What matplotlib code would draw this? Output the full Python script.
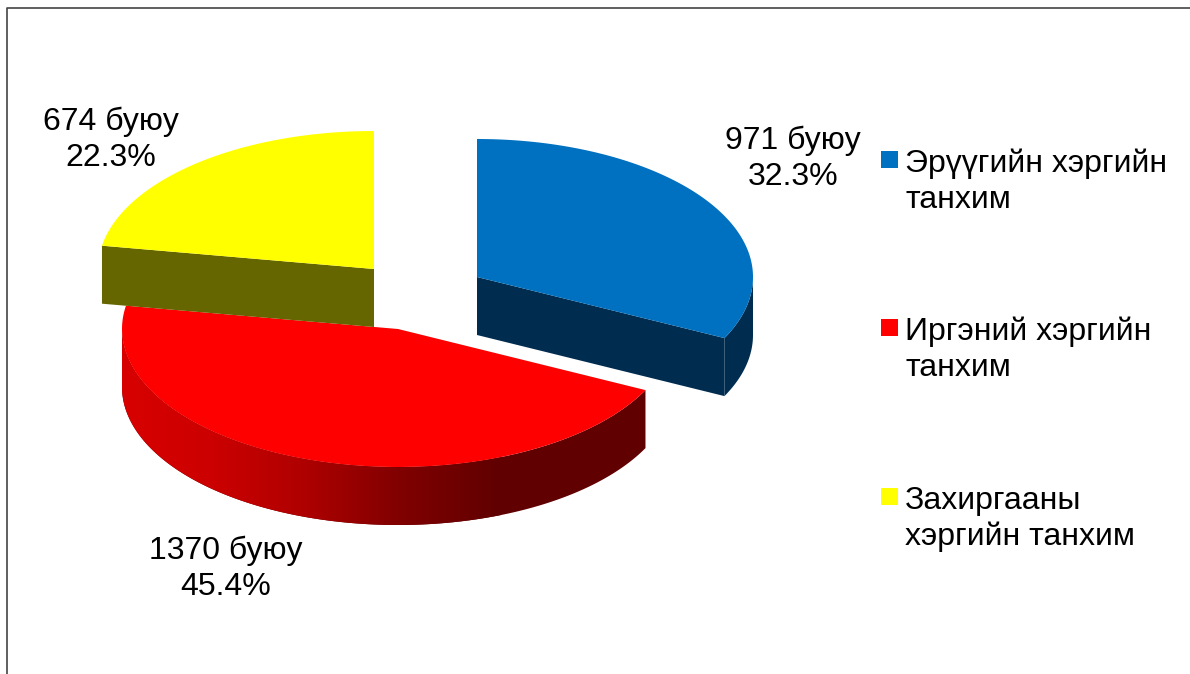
import numpy as np
import matplotlib
matplotlib.use('Agg')
import matplotlib.pyplot as plt
from matplotlib.patches import Polygon, Rectangle

plt.rcParams['font.family'] = ['Liberation Sans', 'DejaVu Sans']

# data
categories = ['Эрүүгийн хэргийн\nтанхим', 'Иргэний хэргийн\nтанхим', 'Захиргааны\nхэргийн танхим']
counts = [971, 1370, 674]
shares = [32.3, 45.4, 22.3]
colors = ['#0070c0', '#ff0000', '#ffff00']
side_colors = ['#002c50', '#600000', '#666600']

# layout in pixels
centers = [(477, 277), (398, 329), (374, 269)]
label_pos = [(793, 185), (226, 595), (111, 166)]
legend_box_y = [151, 319, 488]
legend_text_y = [208, 376, 545]
RX, RY, DEPTH = 276, 138, 58
FS = 23
LS = 1.25

fig = plt.figure(figsize=(11.9, 6.74), dpi=100)
ax = fig.add_axes([0, 0, 1, 1])
ax.set_xlim(0, 1190)
ax.set_ylim(674, 0)
ax.axis('off')


def arc(c, a0, a1, dy=0):
    t = np.radians(np.linspace(a0, a1, 200))
    return np.column_stack([c[0] + RX * np.sin(t), c[1] + dy - RY * np.cos(t)])


edges = np.concatenate([[0], np.cumsum(shares)]) * 3.6

for i in range(3):
    c = centers[i]
    a0, a1 = edges[i], edges[i + 1]
    z = 2 + i * 2

    # outer rim, only the front half shows
    f0, f1 = max(a0, 90), min(a1, 270)
    if f1 > f0:
        rim = np.vstack([arc(c, f0, f1), arc(c, f0, f1, DEPTH)[::-1]])
        poly = Polygon(rim, closed=True, fc=side_colors[i], ec='none', zorder=z)
        ax.add_patch(poly)
        if i == 1:
            # red rim fades from left to right
            xs = np.arange(121, 501)
            strip = np.zeros((1, xs.size, 3))
            strip[0, :, 0] = np.interp(xs, [121, 210, 300, 400, 500], [216, 204, 176, 128, 96]) / 255
            im = ax.imshow(strip, extent=(121, 501, 674, 0), aspect='auto', zorder=z + 0.2)
            im.set_clip_path(poly)
            ax.set_xlim(0, 1190)
            ax.set_ylim(674, 0)

    # cut wall from the centre out to the visible radius
    if i != 1:
        wall_a = a1 if i == 0 else a0
        p = arc(c, wall_a, wall_a + 1e-6)[0]
        wall = [c, tuple(p), (p[0], p[1] + DEPTH), (c[0], c[1] + DEPTH)]
        ax.add_patch(Polygon(wall, closed=True, fc=side_colors[i], ec='none', zorder=z + 0.5))

    top = np.vstack([[c], arc(c, a0, a1)])
    ax.add_patch(Polygon(top, closed=True, fc=colors[i], ec='none', zorder=z + 1))

    ax.text(label_pos[i][0], label_pos[i][1], f'{counts[i]} буюу\n{shares[i]}%',
            fontsize=FS, ha='center', va='baseline', linespacing=LS, color='black', zorder=10)

    ax.add_patch(Rectangle((881, legend_box_y[i]), 17, 17, fc=colors[i], ec='none', zorder=10))
    ax.text(905, legend_text_y[i], categories[i], fontsize=FS, ha='left', va='baseline',
            linespacing=LS, color='black', zorder=10)

# chart border, top and left only
ax.plot([6.5, 6.5, 1190], [674, 8, 8], color='#444444', lw=1.2, zorder=11)

fig.savefig('out.png', dpi=100)
